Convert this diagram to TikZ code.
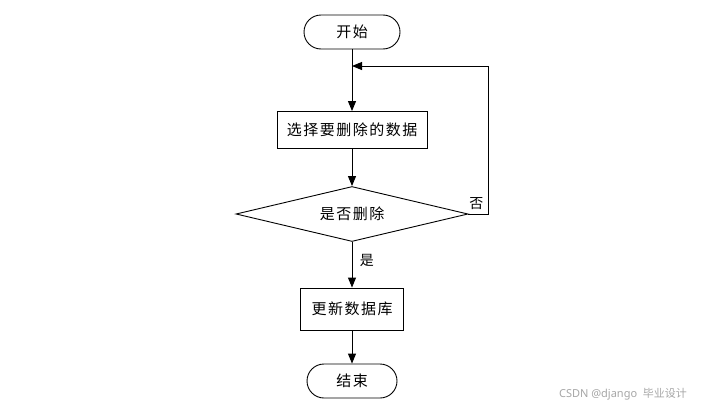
\documentclass[tikz,border=0pt]{standalone}
\usepackage{fontspec}
\setmainfont{Noto Sans}
\newfontfamily\cjk[LetterSpace=10]{Noto Sans CJK SC}
\newfontfamily\cjkmark{Noto Sans CJK SC}
\usetikzlibrary{shapes.geometric,arrows.meta}
\tikzset{
    terminal/.style={draw,rounded corners=17pt,minimum width=96pt,minimum height=34pt,font=\cjk\fontsize{15pt}{18pt}\selectfont},
    process/.style={draw,minimum width=150pt,minimum height=37pt,font=\cjk\fontsize{15pt}{18pt}\selectfont},
    decision/.style={draw,diamond,aspect=4.2,inner sep=0pt,minimum width=232pt,minimum height=55pt,font=\cjk\fontsize{15pt}{18pt}\selectfont},
    flow/.style={-{Triangle[length=10pt,width=8pt]}},
    tag/.style={font=\cjk\fontsize{14pt}{16pt}\selectfont}
}
\begin{document}
\begin{tikzpicture}[x=1pt,y=-1pt,line width=0.9pt]
        \useasboundingbox (0,0) rectangle (711,407);
        \node[terminal] (start) at (352,32) {开始};
        \node[process] (select) at (352,130) {选择要删除的数据};
        \node[decision] (ask) at (352,214) {是否删除};
        \node[process,minimum width=103pt,minimum height=42pt] (update) at (352,309) {更新数据库};
        \node[terminal,minimum width=90pt] (stop) at (352,381) {结束};
        \coordinate (back) at (352,66);
        \draw[flow] (start) -- (select);
        \draw[flow] (select) -- (ask);
        \draw[flow] (ask) -- (update) node[tag,pos=0.4,right=4pt] {是};
        \draw[flow] (update) -- (stop);
        \draw[flow] (ask.east) -- (488,214) node[tag,pos=0.4,above=1pt] {否} |- (back);
        \node[gray!70,font=\fontsize{11pt}{13pt}\selectfont] (mark) at (623,394) {CSDN @django\ \ {\cjkmark 毕业设计}};
    \end{tikzpicture}
\end{document}
